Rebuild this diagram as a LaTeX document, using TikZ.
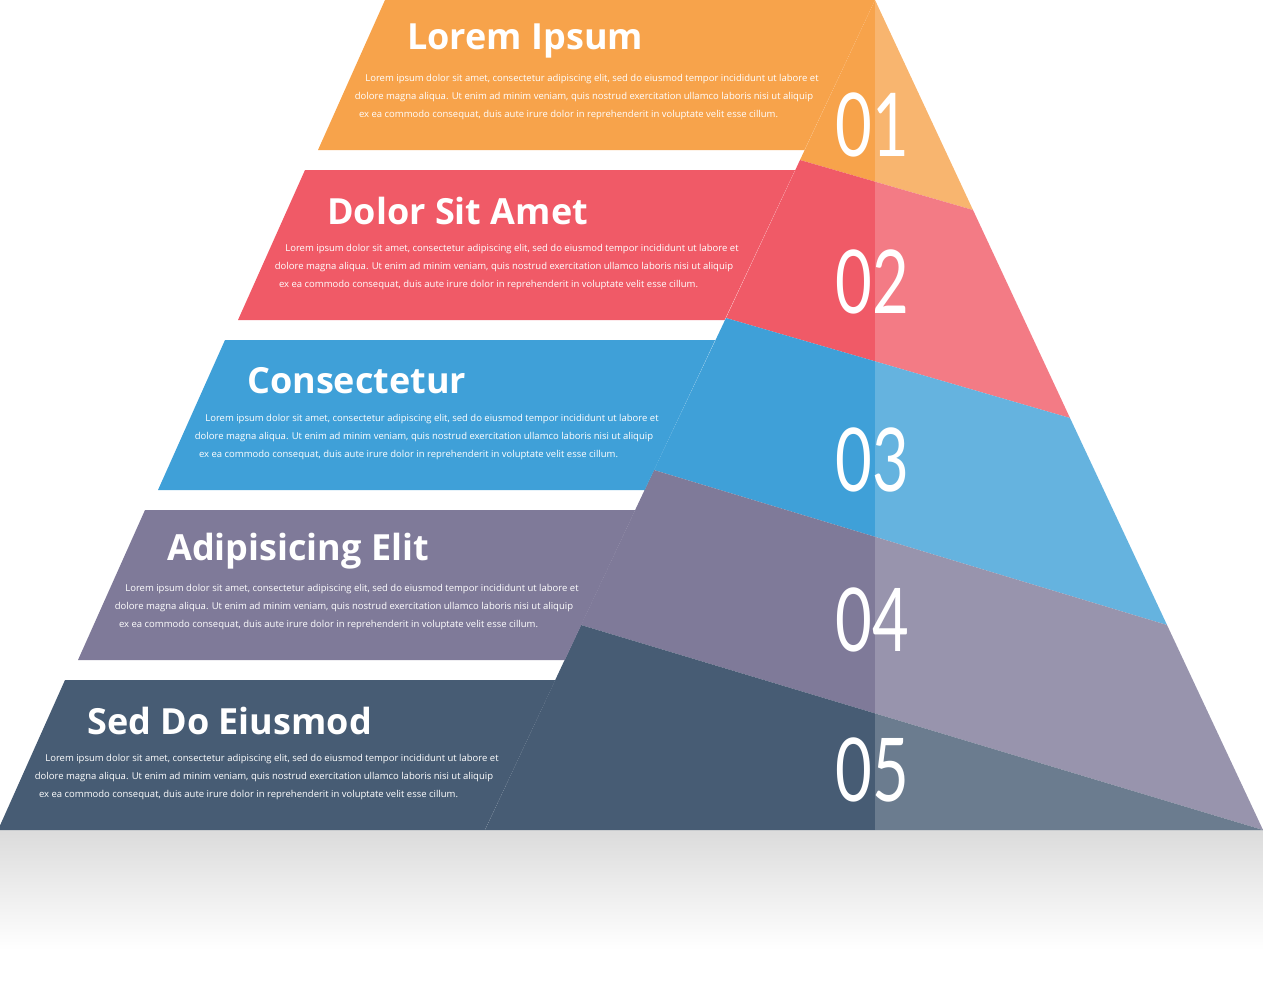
\documentclass[tikz,border=0pt]{standalone}
\usepackage{fontspec}
\setmainfont{Open Sans}
\newfontfamily\numfont{Lato}
\definecolor{cOrange}{HTML}{F7A34B}
\definecolor{cRed}{HTML}{F05A67}
\definecolor{cBlue}{HTML}{3FA0D8}
\definecolor{cPurple}{HTML}{7F7A99}
\definecolor{cDark}{HTML}{475C74}
\tikzset{
  title/.style={anchor=west,text=white,font=\fontsize{36}{40}\selectfont\bfseries,inner sep=0pt},
  body/.style={text=white,font=\fontsize{9.5}{11}\selectfont,inner sep=0pt},
  num/.style={text=white,font=\numfont\fontsize{88}{88}\selectfont,xscale=0.72,inner sep=0pt},
}
\begin{document}
\begin{tikzpicture}[x=1pt,y=-1pt]
\useasboundingbox (0,0) rectangle (1263,980);
% reflection
\shade[top color=black!14,bottom color=white] (0,830) rectangle (1263,950);
% right face
\coordinate (apex) at (875,0);
\coordinate (L1) at (800,160); \coordinate (R1) at (973,210);
\coordinate (L2) at (726,318); \coordinate (R2) at (1070,418);
\coordinate (L3) at (654,470); \coordinate (R3) at (1167,625);
\coordinate (L4) at (581,625); \coordinate (R4) at (1263,830);
\coordinate (L5) at (485,830);
\fill[cOrange] (apex) -- (R1) -- (L1) -- cycle;
\fill[cRed] (L1) -- (R1) -- (R2) -- (L2) -- cycle;
\fill[cBlue] (L2) -- (R2) -- (R3) -- (L3) -- cycle;
\fill[cPurple] (L3) -- (R3) -- (R4) -- (L4) -- cycle;
\fill[cDark] (L4) -- (R4) -- (L5) -- cycle;
\fill[white,opacity=0.2] (apex) -- (R4) -- (875,830) -- cycle;
% numbers
\node[num] (n1) at (872,125) {01};
\node[num] (n2) at (872,282) {02};
\node[num] (n3) at (872,460) {03};
\node[num] (n4) at (872,620) {04};
\node[num] (n5) at (872,770) {05};
% left bands
\foreach \i/\c/\t in {0/cOrange/Lorem Ipsum,1/cRed/Dolor Sit Amet,2/cBlue/Consectetur,3/cPurple/Adipisicing Elit,4/cDark/Sed Do Eiusmod}{
  \pgfmathsetmacro\top{170*\i}
  \pgfmathsetmacro\bot{170*\i+150}
  \pgfmathsetmacro\dx{-80*\i}
  \fill[\c] (385+\dx,\top) -- (875-0.47*\top,\top) -- (875-0.47*\bot,\bot) -- (318+\dx,\bot) -- cycle;
  \node[title] (t\i) at (407+\dx,\top+41) {\t};
  \node[body] (a\i) at (592+\dx,\top+79) {Lorem ipsum dolor sit amet, consectetur adipiscing elit, sed do eiusmod tempor incididunt ut labore et};
  \node[body] (b\i) at (584+\dx,\top+97) {dolore magna aliqua. Ut enim ad minim veniam, quis nostrud exercitation ullamco laboris nisi ut aliquip};
  \node[body,text width=434pt,align=justify] (c\i) at (576+\dx,\top+115) {ex ea commodo consequat, duis aute irure dolor in reprehenderit in voluptate velit esse cillum.\hfill\null};
}
\end{tikzpicture}
\end{document}
